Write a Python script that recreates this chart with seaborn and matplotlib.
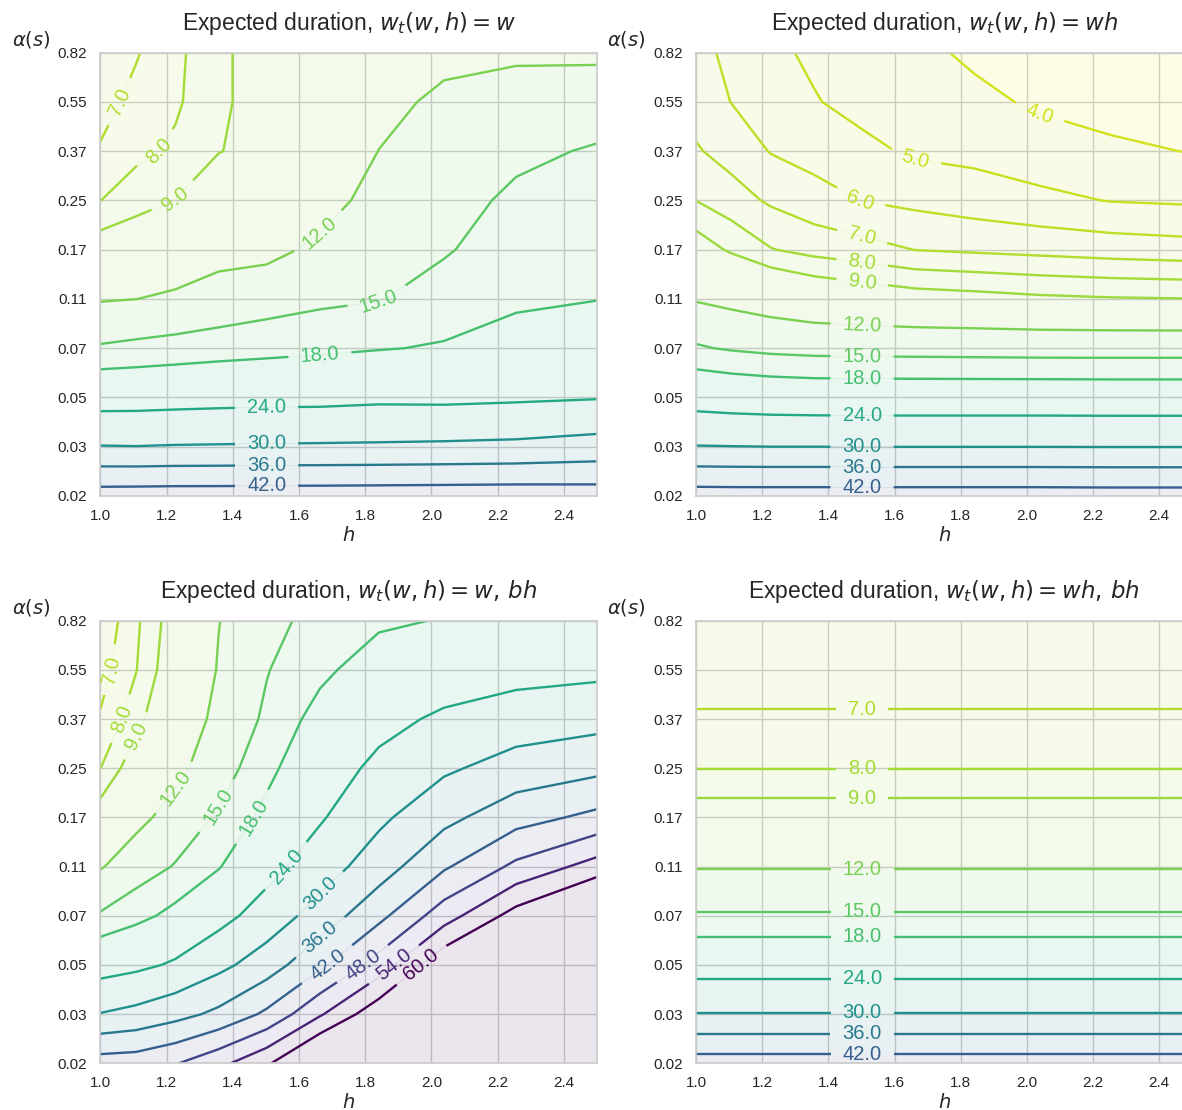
import numpy as np
import matplotlib
matplotlib.use('Agg')
import matplotlib.pyplot as plt
from matplotlib.colors import Normalize
import seaborn as sns

sns.set_theme(style='whitegrid', context='notebook')
plt.rcParams['font.family'] = 'sans-serif'
plt.rcParams['font.sans-serif'] = ['Liberation Sans', 'DejaVu Sans']

# grid of the experiment
h_values = [1.0, 1.107, 1.226, 1.357, 1.502, 1.663, 1.841, 2.038, 2.256, 2.5]
alpha_labels = ['0.02', '0.03', '0.05', '0.07', '0.11', '0.17', '0.25', '0.37', '0.55', '0.82']
levels = [4, 5, 6, 7, 8, 9, 12, 15, 18, 24, 30, 36, 42, 48, 54, 60]

# expected duration, one list per h value (rows: alpha from 0.02 up to 0.82)
dur_w = [
    [44.7, 30.2, 21.6, 15.3, 11.8, 9.65, 7.99, 7.1, 6.6, 6.2],
    [44.8, 30.1, 21.7, 15.66, 11.98, 10.04, 8.5, 7.77, 7.32, 6.9],
    [44.9, 30.3, 21.95, 16.03, 12.34, 10.58, 9.02, 8.17, 7.85, 7.8],
    [44.9, 30.4, 22.2, 16.46, 13.0, 11.2, 10.03, 8.95, 8.7, 8.6],
    [45.0, 30.5, 22.4, 16.85, 13.7, 11.27, 10.4, 9.47, 9.73, 9.98],
    [45.0, 30.6, 22.45, 17.3, 14.38, 12.55, 10.9, 10.7, 10.6, 10.6],
    [45.1, 30.7, 22.9, 17.8, 14.85, 13.97, 12.98, 12.02, 11.5, 11.3],
    [45.2, 30.9, 22.8, 18.3, 16.23, 14.72, 13.93, 13.14, 12.35, 11.55],
    [45.3, 31.2, 23.2, 19.5, 17.41, 16.47, 15.54, 14.41, 13.0, 11.63],
    [45.0, 32.2, 23.7, 20.8, 17.9, 17.03, 16.15, 15.27, 13.56, 11.48],
]

dur_wh = [
    [44.7, 30.2, 21.6, 15.3, 11.8, 9.65, 7.99, 7.1, 6.6, 6.2],
    [44.6, 30.1, 21.1, 14.7, 11.26, 8.82, 7.44, 6.61, 5.98, 5.85],
    [44.6, 30.0, 20.76, 14.24, 10.68, 8.05, 6.85, 5.95, 5.5, 5.2],
    [44.6, 30.0, 20.58, 13.97, 10.15, 7.65, 6.39, 5.64, 5.06, 4.84],
    [44.6, 29.95, 20.54, 13.9, 9.84, 7.37, 5.98, 5.24, 4.7, 4.5],
    [44.6, 29.95, 20.54, 13.83, 9.54, 6.98, 5.75, 4.85, 4.5, 4.25],
    [44.6, 29.95, 20.54, 13.76, 9.4, 6.84, 5.5, 4.73, 4.24, 3.82],
    [44.6, 29.95, 20.54, 13.68, 9.2, 6.7, 5.22, 4.48, 3.85, 3.6],
    [44.5, 29.9, 20.5, 13.66, 9.08, 6.53, 4.96, 4.19, 3.6, 3.4],
    [44.5, 29.9, 20.5, 13.66, 9.02, 6.39, 4.86, 3.96, 3.5, 3.25],
]

dur_w_bh = [
    [44.7, 30.2, 21.6, 15.3, 11.8, 9.65, 7.99, 7.1, 6.6, 6.2],
    [45.1, 31.6, 22.75, 16.94, 13.44, 11.27, 9.76, 8.6, 7.95, 7.8],
    [47.6, 33.97, 24.68, 19.0, 15.2, 13.0, 11.3, 10.4, 9.9, 9.65],
    [52.3, 37.3, 28.4, 22.1, 17.75, 15.4, 13.5, 12.6, 12.13, 11.95],
    [59.0, 43.1, 33.0, 26.5, 22.1, 19.0, 17.0, 15.5, 14.85, 13.5],
    [70.3, 53.25, 40.7, 32.5, 27.1, 23.4, 21.3, 19.3, 17.2, 16.6],
    [78.0, 64.2, 50.6, 40.3, 33.1, 28.8, 25.2, 22.4, 19.9, 17.4],
    [100.0, 80.0, 65.0, 51.2, 41.2, 34.35, 29.1, 24.9, 21.0, 18.2],
    [130.0, 100.0, 80.0, 62.5, 49.3, 39.7, 32.4, 26.9, 22.0, 20.0],
    [160.0, 120.0, 95.0, 73.0, 56.5, 43.5, 34.5, 28.0, 22.7, 21.0],
]

# no dependence on h for the last case
dur_wh_bh = [44.7, 30.2, 21.6, 15.3, 11.8, 9.65, 7.99, 7.1, 6.6, 6.2]

panels = [
    (np.array(dur_w).T, r'Expected duration, $w_t(w, h) = w$'),
    (np.array(dur_wh).T, r'Expected duration, $w_t(w, h) = wh$'),
    (np.array(dur_w_bh).T, r'Expected duration, $w_t(w, h) = w,\, bh$'),
    (np.tile(np.array(dur_wh_bh)[:, None], (1, len(h_values))), r'Expected duration, $w_t(w, h) = wh,\, bh$'),
]

# axes boxes in figure fractions (right column runs past the figure edge)
boxes = [
    [0.0850, 0.5532, 0.4200, 0.3994],
    [0.5888, 0.5532, 0.4200, 0.3994],
    [0.0850, 0.0421, 0.4200, 0.3987],
    [0.5888, 0.0421, 0.4200, 0.3987],
]

cmap = sns.color_palette('viridis_r', as_cmap=True)
norm = Normalize(vmin=0, vmax=60)
alpha_idx = np.arange(len(alpha_labels))
xticks = np.arange(1.0, 2.41, 0.2)

fig = plt.figure(figsize=(11.82, 11.10), dpi=100)

for (z, title), box in zip(panels, boxes):
    ax = fig.add_axes(box)
    ax.contourf(h_values, alpha_idx, z, levels=[0] + levels, cmap=cmap, norm=norm,
                alpha=0.1, extend='max')
    cs = ax.contour(h_values, alpha_idx, z, levels=levels, cmap=cmap, norm=norm,
                    linewidths=1.7)
    ax.clabel(cs, fmt='%.1f', fontsize=14.5, inline=True, inline_spacing=12)

    ax.set_xlim(1.0, 2.5)
    ax.set_ylim(0, 9)
    ax.set_xticks(xticks)
    ax.set_xticklabels(['%.1f' % t for t in xticks])
    ax.set_yticks(alpha_idx)
    ax.set_yticklabels(alpha_labels)
    ax.tick_params(labelsize=11)
    ax.set_title(title, fontsize=16.5, pad=16)
    ax.set_xlabel(r'$h$', fontsize=14, labelpad=2)
    ax.set_ylabel(r'$\alpha(s)$', fontsize=14, rotation=0, ha='center', va='center')
    ax.yaxis.set_label_coords(-0.14, 1.03)

fig.savefig('out.png', dpi=100)
